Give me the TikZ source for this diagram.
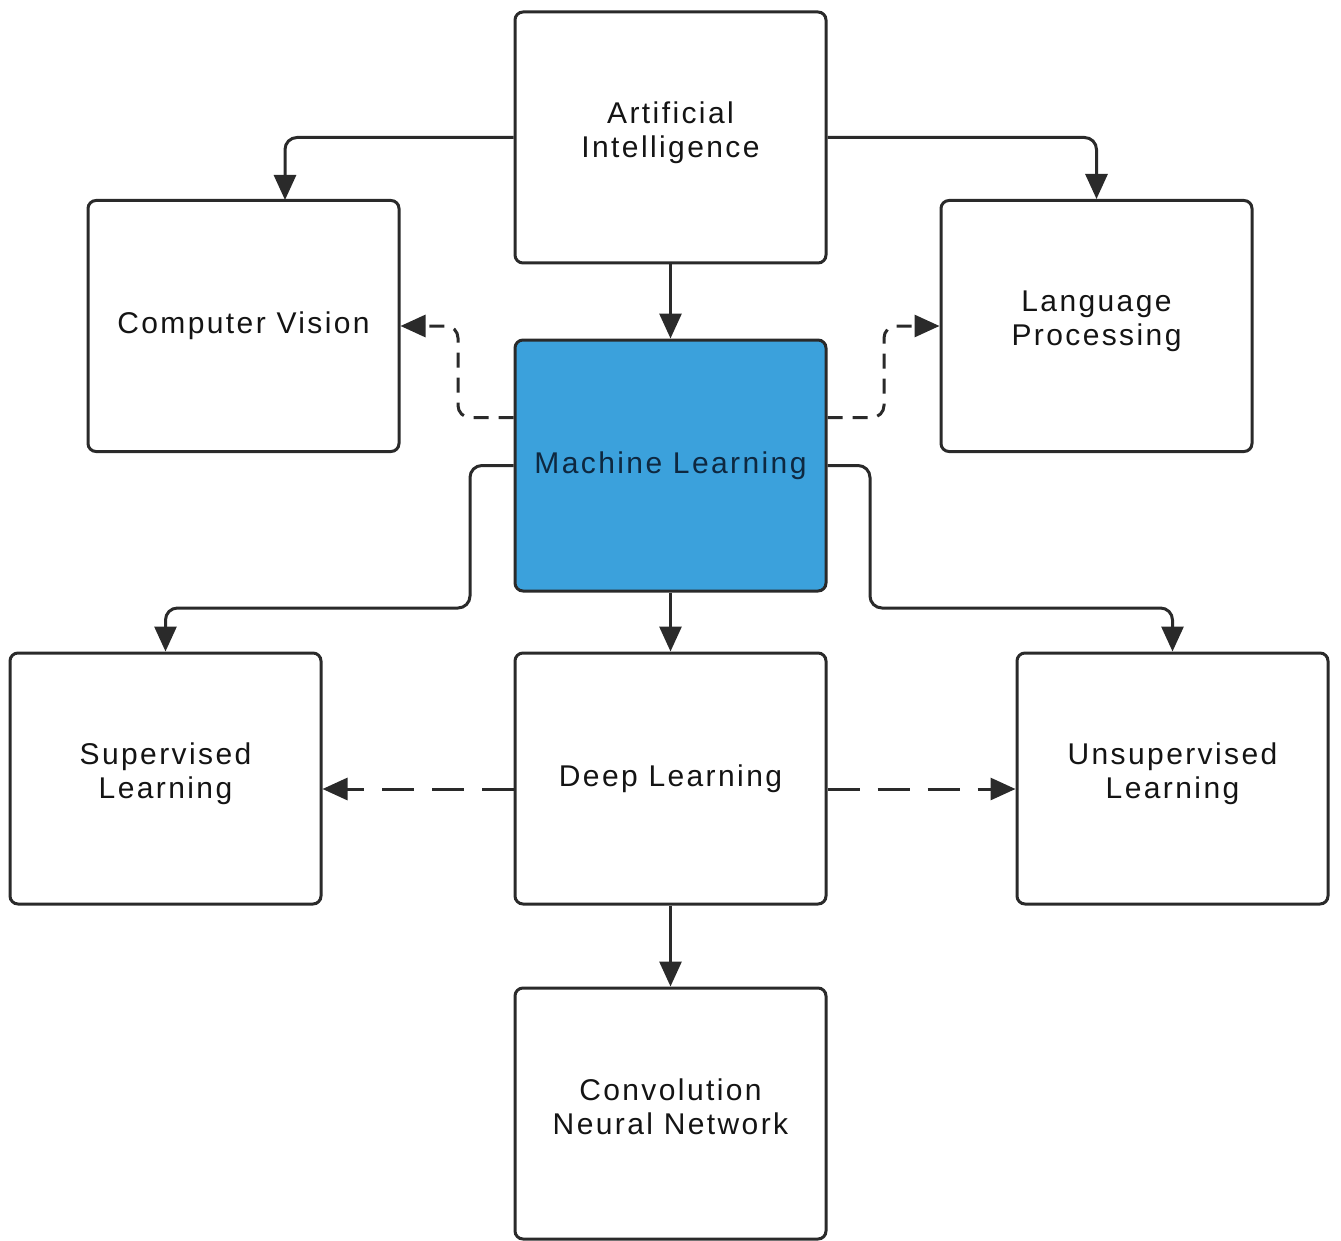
\documentclass[tikz,border=0pt]{standalone}
\usepackage{fontspec}
\setmainfont{Liberation Sans}[LetterSpace=8]
\usetikzlibrary{arrows.meta}
\definecolor{boxline}{HTML}{2A2A2A}
\definecolor{mlblue}{HTML}{3BA1DC}
\definecolor{mltext}{HTML}{0E2840}
\definecolor{txt}{HTML}{141414}
\tikzset{
  box/.style={draw=boxline, line width=3pt, rounded corners=8pt, minimum width=311pt, minimum height=251pt, align=center, text=txt, font=\fontsize{30}{34}\selectfont, inner sep=0pt},
  twoline/.style={text depth=16pt},
  conn/.style={draw=boxline, line width=3pt, rounded corners=12pt, -{Triangle[length=25pt,width=22pt]}},
  dconnA/.style={conn, dash pattern=on 15pt off 10pt},
  dconnB/.style={conn, dash pattern=on 32pt off 18pt},
}
\begin{document}
\begin{tikzpicture}[x=1pt,y=-1pt]
\useasboundingbox (0,0) rectangle (1341,1241);
\node[box, twoline] (AI) at (670.5,137.5) {Artificial\\Intelligence};
\node[box] (CV) at (243.5,326) {Computer Vision};
\node[box, twoline] (LP) at (1096.5,326) {Language\\Processing};
\node[box, fill=mlblue, text=mltext] (ML) at (670.5,465.5) {Machine Learning};
\node[box, twoline] (SL) at (165.5,778.5) {Supervised\\Learning};
\node[box] (DL) at (670.5,778.5) {Deep Learning};
\node[box, twoline] (UL) at (1172.5,778.5) {Unsupervised\\Learning};
\node[box, text depth=14pt] (CNN) at (670.5,1113.5) {Convolution\\Neural Network};
% bend points
\coordinate (cvtop) at (285,200);
\coordinate (dl1) at (458,417.5);
\coordinate (dl2) at (458,326);
\coordinate (dr1) at (884,417.5);
\coordinate (dr2) at (884,326);
\coordinate (sl1) at (470,465.5);
\coordinate (sl2) at (470,608);
\coordinate (sl3) at (165.5,608);
\coordinate (ul1) at (870,465.5);
\coordinate (ul2) at (870,608);
\coordinate (ul3) at (1172.5,608);
% connectors
\draw[conn] (AI.west) -| (cvtop);
\draw[conn] (AI.east) -| (LP.north);
\draw[conn] (AI.south) -- (ML.north);
\draw[dconnA] ([yshift=48pt]ML.west) -- (dl1) -- (dl2) -- (CV.east);
\draw[dconnA] ([yshift=48pt]ML.east) -- (dr1) -- (dr2) -- (LP.west);
\draw[conn] (ML.west) -- (sl1) -- (sl2) -- (sl3) -- (SL.north);
\draw[conn] (ML.east) -- (ul1) -- (ul2) -- (ul3) -- (UL.north);
\draw[conn] (ML.south) -- (DL.north);
\draw[dconnB] ([yshift=-10.5pt]DL.west) -- ([yshift=-10.5pt]SL.east);
\draw[dconnB] ([yshift=-10.5pt]DL.east) -- ([yshift=-10.5pt]UL.west);
\draw[conn] (DL.south) -- (CNN.north);
\end{tikzpicture}
\end{document}
